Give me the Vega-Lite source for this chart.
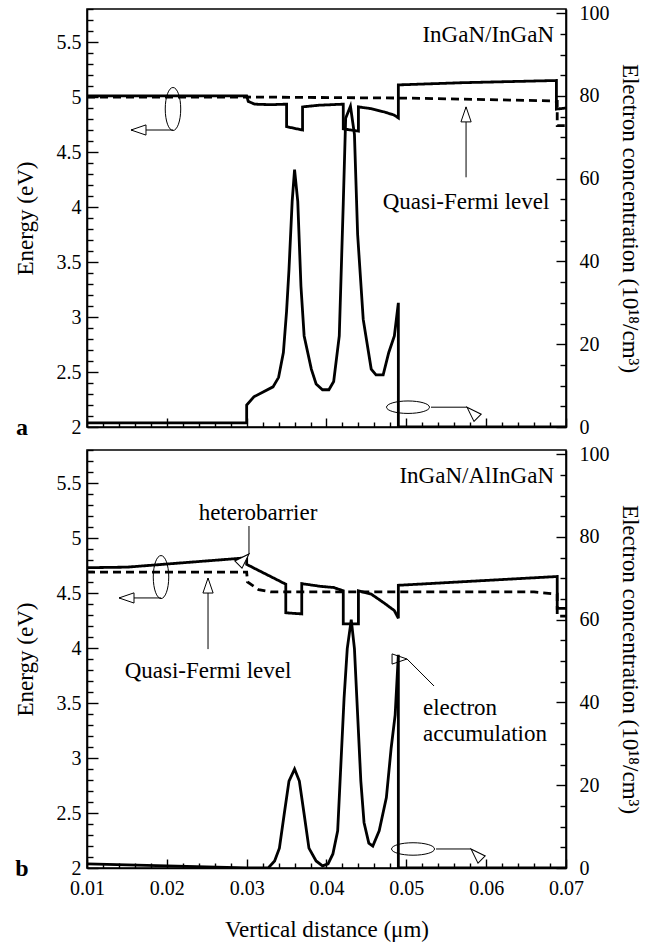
{
  "$schema": "https://vega.github.io/schema/vega-lite/v6.json",
  "background": "white",
  "padding": {"left": 13, "top": -2, "right": 8, "bottom": 8},
  "config": {
    "font": "Liberation Serif",
    "view": {"stroke": "black", "strokeWidth": 1.6},
    "axis": {
      "grid": false,
      "domainColor": "black",
      "domainWidth": 1.6,
      "tickColor": "black",
      "tickWidth": 1.4,
      "tickCount": 100,
      "labelColor": "black",
      "labelFontSize": 20,
      "labelFont": "Liberation Serif",
      "titleColor": "black",
      "titleFont": "Liberation Serif",
      "titleFontSize": 23,
      "titleFontWeight": "normal",
      "labelFlush": false,
      "labelOverlap": false
    }
  },
  "datasets": {
    "energyA": [
      {"x": 0.010, "E": 5.01, "s": "band"},
      {"x": 0.030, "E": 5.01, "s": "band"},
      {"x": 0.0302, "E": 4.96, "s": "band"},
      {"x": 0.031, "E": 4.935, "s": "band"},
      {"x": 0.033, "E": 4.93, "s": "band"},
      {"x": 0.0350, "E": 4.935, "s": "band"},
      {"x": 0.0350, "E": 4.73, "s": "band"},
      {"x": 0.0370, "E": 4.70, "s": "band"},
      {"x": 0.0370, "E": 4.91, "s": "band"},
      {"x": 0.039, "E": 4.925, "s": "band"},
      {"x": 0.0421, "E": 4.935, "s": "band"},
      {"x": 0.0421, "E": 4.71, "s": "band"},
      {"x": 0.0440, "E": 4.69, "s": "band"},
      {"x": 0.0440, "E": 4.91, "s": "band"},
      {"x": 0.0455, "E": 4.895, "s": "band"},
      {"x": 0.0472, "E": 4.865, "s": "band"},
      {"x": 0.0485, "E": 4.835, "s": "band"},
      {"x": 0.0490, "E": 4.81, "s": "band"},
      {"x": 0.0490, "E": 5.11, "s": "band"},
      {"x": 0.057, "E": 5.13, "s": "band"},
      {"x": 0.0688, "E": 5.15, "s": "band"},
      {"x": 0.0688, "E": 4.89, "s": "band"},
      {"x": 0.070, "E": 4.90, "s": "band"},
      {"x": 0.010, "E": 5.0, "s": "fermi"},
      {"x": 0.030, "E": 5.0, "s": "fermi"},
      {"x": 0.050, "E": 4.99, "s": "fermi"},
      {"x": 0.068, "E": 4.965, "s": "fermi"},
      {"x": 0.0689, "E": 4.96, "s": "fermi"},
      {"x": 0.0689, "E": 4.74, "s": "fermi"},
      {"x": 0.070, "E": 4.74, "s": "fermi"}
    ],
    "concA": [
      {"x": 0.010, "c": 1},
      {"x": 0.030, "c": 1},
      {"x": 0.030, "c": 5.3},
      {"x": 0.0309, "c": 7.3},
      {"x": 0.0333, "c": 9.7},
      {"x": 0.0340, "c": 12},
      {"x": 0.0346, "c": 18},
      {"x": 0.0350, "c": 28},
      {"x": 0.0353, "c": 38},
      {"x": 0.0357, "c": 54.5},
      {"x": 0.0360, "c": 62.2},
      {"x": 0.0364, "c": 54.5},
      {"x": 0.0368, "c": 34},
      {"x": 0.0372, "c": 22},
      {"x": 0.0381, "c": 14},
      {"x": 0.0387, "c": 10.4},
      {"x": 0.0395, "c": 9},
      {"x": 0.0403, "c": 9},
      {"x": 0.0409, "c": 11},
      {"x": 0.0416, "c": 22},
      {"x": 0.0421, "c": 54},
      {"x": 0.0424, "c": 74.6},
      {"x": 0.0430, "c": 77.5},
      {"x": 0.0435, "c": 70.7},
      {"x": 0.0439, "c": 46.5},
      {"x": 0.0446, "c": 26},
      {"x": 0.0456, "c": 14},
      {"x": 0.0462, "c": 12.6},
      {"x": 0.0471, "c": 12.6},
      {"x": 0.0478, "c": 18},
      {"x": 0.0485, "c": 22},
      {"x": 0.0490, "c": 30},
      {"x": 0.0490, "c": 0},
      {"x": 0.070, "c": 0}
    ],
    "arrowsA": [
      {"x": 0.02077, "E": 4.70, "x2": 0.01551, "E2": 4.70, "dir": "left"},
      {"x": 0.05309, "E": 2.18, "x2": 0.05760, "E2": 2.18, "dir": "right"},
      {"x": 0.05748, "E": 4.27, "x2": 0.05748, "E2": 4.91, "dir": "up"}
    ],
    "ringsA": [
      {"x": 0.02077, "E": 4.891, "o": "v"},
      {"x": 0.05021, "E": 2.18, "o": "h"}
    ],
    "textA": [
      {"x": 0.0685, "E": 5.564, "t": "InGaN/InGaN", "a": "right"},
      {"x": 0.05748, "E": 4.045, "t": "Quasi-Fermi level", "a": "center"},
      {"x": 0.00186, "E": 1.927, "t": "a", "a": "tag"}
    ],
    "energyB": [
      {"x": 0.010, "E": 4.73, "s": "band"},
      {"x": 0.015, "E": 4.735, "s": "band"},
      {"x": 0.030, "E": 4.82, "s": "band"},
      {"x": 0.030, "E": 4.76, "s": "band"},
      {"x": 0.0349, "E": 4.58, "s": "band"},
      {"x": 0.0349, "E": 4.32, "s": "band"},
      {"x": 0.0369, "E": 4.31, "s": "band"},
      {"x": 0.0369, "E": 4.585, "s": "band"},
      {"x": 0.0393, "E": 4.56, "s": "band"},
      {"x": 0.0409, "E": 4.55, "s": "band"},
      {"x": 0.0421, "E": 4.52, "s": "band"},
      {"x": 0.0421, "E": 4.22, "s": "band"},
      {"x": 0.0440, "E": 4.22, "s": "band"},
      {"x": 0.0440, "E": 4.52, "s": "band"},
      {"x": 0.0456, "E": 4.49, "s": "band"},
      {"x": 0.0472, "E": 4.41, "s": "band"},
      {"x": 0.0485, "E": 4.34, "s": "band"},
      {"x": 0.0490, "E": 4.27, "s": "band"},
      {"x": 0.0490, "E": 4.57, "s": "band"},
      {"x": 0.0689, "E": 4.65, "s": "band"},
      {"x": 0.0689, "E": 4.36, "s": "band"},
      {"x": 0.070, "E": 4.36, "s": "band"},
      {"x": 0.010, "E": 4.69, "s": "fermi"},
      {"x": 0.030, "E": 4.69, "s": "fermi"},
      {"x": 0.0301, "E": 4.60, "s": "fermi"},
      {"x": 0.0315, "E": 4.53, "s": "fermi"},
      {"x": 0.033, "E": 4.51, "s": "fermi"},
      {"x": 0.066, "E": 4.51, "s": "fermi"},
      {"x": 0.0689, "E": 4.49, "s": "fermi"},
      {"x": 0.0689, "E": 4.29, "s": "fermi"},
      {"x": 0.070, "E": 4.29, "s": "fermi"}
    ],
    "concB": [
      {"x": 0.010, "c": 1},
      {"x": 0.020, "c": 0.5},
      {"x": 0.030, "c": 0},
      {"x": 0.0327, "c": 0},
      {"x": 0.0335, "c": 1.7},
      {"x": 0.0341, "c": 4.8},
      {"x": 0.0347, "c": 13},
      {"x": 0.0353, "c": 21},
      {"x": 0.0360, "c": 23.9},
      {"x": 0.0366, "c": 21},
      {"x": 0.0372, "c": 13},
      {"x": 0.0378, "c": 4.8},
      {"x": 0.0387, "c": 1.7},
      {"x": 0.0395, "c": 0.5},
      {"x": 0.0402, "c": 1},
      {"x": 0.0408, "c": 3.4},
      {"x": 0.0414, "c": 9},
      {"x": 0.0418, "c": 25},
      {"x": 0.0422, "c": 41},
      {"x": 0.0426, "c": 53},
      {"x": 0.0431, "c": 60},
      {"x": 0.0435, "c": 53},
      {"x": 0.0439, "c": 37},
      {"x": 0.0443, "c": 21},
      {"x": 0.0447, "c": 11},
      {"x": 0.0453, "c": 6},
      {"x": 0.0458, "c": 5.3},
      {"x": 0.0466, "c": 9},
      {"x": 0.0475, "c": 17},
      {"x": 0.0481, "c": 29},
      {"x": 0.0486, "c": 37},
      {"x": 0.0490, "c": 51.5},
      {"x": 0.0490, "c": 0},
      {"x": 0.070, "c": 0}
    ],
    "arrowsB": [
      {"x": 0.03029, "E": 5.109, "x2": 0.03029, "E2": 4.855, "dir": "down"},
      {"x": 0.01927, "E": 4.455, "x2": 0.01401, "E2": 4.455, "dir": "left"},
      {"x": 0.02516, "E": 3.99, "x2": 0.02516, "E2": 4.636, "dir": "up"},
      {"x": 0.05347, "E": 3.6545, "x2": 0.05009, "E2": 3.9, "dir": "upleft"},
      {"x": 0.05372, "E": 2.173, "x2": 0.05810, "E2": 2.173, "dir": "right"}
    ],
    "ringsB": [
      {"x": 0.01927, "E": 4.645, "o": "v"},
      {"x": 0.05084, "E": 2.173, "o": "h"}
    ],
    "textB": [
      {"x": 0.0685, "E": 5.564, "t": "InGaN/AlInGaN", "a": "right"},
      {"x": 0.03142, "E": 5.227, "t": "heterobarrier", "a": "center"},
      {"x": 0.02516, "E": 3.79, "t": "Quasi-Fermi level", "a": "center"},
      {"x": 0.05209, "E": 3.4545, "t": "electron", "a": "left"},
      {"x": 0.05209, "E": 3.218, "t": "accumulation", "a": "left"},
      {"x": 0.00186, "E": 1.927, "t": "b", "a": "tag"}
    ]
  },
  "bounds": "flush",
  "spacing": 23,
  "vconcat": [
    {
      "width": 479,
      "height": 418,
      "resolve": {"scale": {"y": "independent"}},
      "layer": [
        {
          "layer": [
            {
              "data": {"name": "energyA"},
              "mark": {"type": "line", "color": "black", "strokeWidth": 2.8, "clip": true},
              "encoding": {
                "x": {"field": "x", "type": "quantitative",
                  "scale": {"domain": [0.01, 0.07], "nice": false, "zero": false},
                  "axis": {
                    "title": null, "labels": false,
                    "values": [0.01,0.012,0.014,0.016,0.018,0.02,0.022,0.024,0.026,0.028,0.03,0.032,0.034,0.036,0.038,0.04,0.042,0.044,0.046,0.048,0.05,0.052,0.054,0.056,0.058,0.06,0.062,0.064,0.066,0.068,0.07],
                    "tickCount": 100,
                    "tickSize": {"condition": {"test": "abs(datum.value*100-round(datum.value*100))<1e-6", "value": -9}, "value": -5}
                  }},
                "y": {"field": "E", "type": "quantitative",
                  "scale": {"domain": [2, 5.8], "nice": false, "zero": false},
                  "axis": {
                    "orient": "left", "title": "Energy (eV)", "titlePadding": 19,
                    "values": [2,2.1,2.2,2.3,2.4,2.5,2.6,2.7,2.8,2.9,3,3.1,3.2,3.3,3.4,3.5,3.6,3.7,3.8,3.9,4,4.1,4.2,4.3,4.4,4.5,4.6,4.7,4.8,4.9,5,5.1,5.2,5.3,5.4,5.5,5.6,5.7,5.8],
                    "tickCount": 100,
                    "tickSize": {"condition": {"test": "abs(datum.value*2-round(datum.value*2))<1e-6", "value": -11}, "value": -6},
                    "labelPadding": 17,
                    "labelExpr": "abs(datum.value*2-round(datum.value*2))<1e-6 ? format(datum.value, '~g') : ''"
                  }},
                "strokeDash": {"field": "s", "type": "nominal", "legend": null,
                  "scale": {"domain": ["band", "fermi"], "range": [[1, 0], [8, 5]]}},
                "order": {"value": null}
              }
            },
            {
              "data": {"name": "arrowsA"},
              "mark": {"type": "rule", "color": "black", "strokeWidth": 1},
              "encoding": {
                "x": {"field": "x", "type": "quantitative"},
                "y": {"field": "E", "type": "quantitative"},
                "x2": {"field": "x2"},
                "y2": {"field": "E2"}
              }
            },
            {
              "data": {"name": "arrowsA"},
              "mark": {"type": "point", "filled": true, "fill": "white", "stroke": "black", "strokeWidth": 1, "opacity": 1, "size": 900,
                "shape": "M0,0 L1,-0.34 L1,0.34 Z"},
              "encoding": {
                "x": {"field": "x2", "type": "quantitative"},
                "y": {"field": "E2", "type": "quantitative"},
                "angle": {"field": "dir", "type": "nominal", "legend": null,
                  "scale": {"domain": ["left", "right", "up", "down", "upleft"], "range": [0, 180, 90, 270, 45]}}
              }
            },
            {
              "data": {"name": "ringsA"},
              "mark": {"type": "point", "filled": false, "stroke": "black", "strokeWidth": 1, "opacity": 1, "size": 1849},
              "encoding": {
                "x": {"field": "x", "type": "quantitative"},
                "y": {"field": "E", "type": "quantitative"},
                "shape": {"field": "o", "type": "nominal", "legend": null,
                  "scale": {"domain": ["v", "h"], "range": ["M0,-1 A0.36,1 0 1,1 0,1 A0.36,1 0 1,1 0,-1 Z", "M-1,0 A1,0.29 0 1,1 1,0 A1,0.29 0 1,1 -1,0 Z"]}}
              }
            },
            {
              "data": {"name": "textA"},
              "transform": [{"filter": "datum.a === 'center'"}],
              "mark": {"type": "text", "align": "center", "baseline": "middle", "fontSize": 23, "color": "black"},
              "encoding": {
                "x": {"field": "x", "type": "quantitative"},
                "y": {"field": "E", "type": "quantitative"},
                "text": {"field": "t"}
              }
            },
            {
              "data": {"name": "textA"},
              "transform": [{"filter": "datum.a === 'right'"}],
              "mark": {"type": "text", "align": "right", "baseline": "middle", "fontSize": 23, "color": "black"},
              "encoding": {
                "x": {"field": "x", "type": "quantitative"},
                "y": {"field": "E", "type": "quantitative"},
                "text": {"field": "t"}
              }
            },
            {
              "data": {"name": "textA"},
              "transform": [{"filter": "datum.a === 'tag'"}],
              "mark": {"type": "text", "align": "center", "baseline": "alphabetic", "fontSize": 24, "fontWeight": "bold", "color": "black"},
              "encoding": {
                "x": {"field": "x", "type": "quantitative"},
                "y": {"field": "E", "type": "quantitative"},
                "text": {"field": "t"}
              }
            }
          ]
        },
        {
          "data": {"name": "concA"},
          "mark": {"type": "line", "color": "black", "strokeWidth": 2.8, "clip": true},
          "encoding": {
            "x": {"field": "x", "type": "quantitative"},
            "y": {"field": "c", "type": "quantitative",
              "scale": {"domain": [0, 101], "nice": false},
              "axis": {
                "orient": "right", "title": "Electron concentration (10¹⁸/cm³)", "titlePadding": 8,
                "values": [0,5,10,15,20,25,30,35,40,45,50,55,60,65,70,75,80,85,90,95,100],
                "tickCount": 100,
                "tickSize": {"condition": {"test": "datum.value % 20 === 0", "value": -10}, "value": -6},
                "labelPadding": 23,
                "labelExpr": "datum.value % 20 === 0 ? format(datum.value, '~g') : ''"
              }},
            "order": {"value": null}
          }
        }
      ]
    },
    {
      "width": 479,
      "height": 418,
      "resolve": {"scale": {"y": "independent"}},
      "layer": [
        {
          "layer": [
            {
              "data": {"name": "energyB"},
              "mark": {"type": "line", "color": "black", "strokeWidth": 2.8, "clip": true},
              "encoding": {
                "x": {"field": "x", "type": "quantitative",
                  "scale": {"domain": [0.01, 0.07], "nice": false, "zero": false},
                  "axis": {
                    "title": "Vertical distance (μm)", "titlePadding": 16,
                    "values": [0.01,0.012,0.014,0.016,0.018,0.02,0.022,0.024,0.026,0.028,0.03,0.032,0.034,0.036,0.038,0.04,0.042,0.044,0.046,0.048,0.05,0.052,0.054,0.056,0.058,0.06,0.062,0.064,0.066,0.068,0.07],
                    "tickCount": 100,
                    "tickSize": {"condition": {"test": "abs(datum.value*100-round(datum.value*100))<1e-6", "value": -9}, "value": -5},
                    "labelPadding": 19,
                    "labelExpr": "abs(datum.value*100-round(datum.value*100))<1e-6 ? format(datum.value, '.2f') : ''"
                  }},
                "y": {"field": "E", "type": "quantitative",
                  "scale": {"domain": [2, 5.8], "nice": false, "zero": false},
                  "axis": {
                    "orient": "left", "title": "Energy (eV)", "titlePadding": 19,
                    "values": [2,2.1,2.2,2.3,2.4,2.5,2.6,2.7,2.8,2.9,3,3.1,3.2,3.3,3.4,3.5,3.6,3.7,3.8,3.9,4,4.1,4.2,4.3,4.4,4.5,4.6,4.7,4.8,4.9,5,5.1,5.2,5.3,5.4,5.5,5.6,5.7,5.8],
                    "tickCount": 100,
                    "tickSize": {"condition": {"test": "abs(datum.value*2-round(datum.value*2))<1e-6", "value": -11}, "value": -6},
                    "labelPadding": 17,
                    "labelExpr": "abs(datum.value*2-round(datum.value*2))<1e-6 ? format(datum.value, '~g') : ''"
                  }},
                "strokeDash": {"field": "s", "type": "nominal", "legend": null,
                  "scale": {"domain": ["band", "fermi"], "range": [[1, 0], [8, 5]]}},
                "order": {"value": null}
              }
            },
            {
              "data": {"name": "arrowsB"},
              "mark": {"type": "rule", "color": "black", "strokeWidth": 1},
              "encoding": {
                "x": {"field": "x", "type": "quantitative"},
                "y": {"field": "E", "type": "quantitative"},
                "x2": {"field": "x2"},
                "y2": {"field": "E2"}
              }
            },
            {
              "data": {"name": "arrowsB"},
              "mark": {"type": "point", "filled": true, "fill": "white", "stroke": "black", "strokeWidth": 1, "opacity": 1, "size": 900,
                "shape": "M0,0 L1,-0.34 L1,0.34 Z"},
              "encoding": {
                "x": {"field": "x2", "type": "quantitative"},
                "y": {"field": "E2", "type": "quantitative"},
                "angle": {"field": "dir", "type": "nominal", "legend": null,
                  "scale": {"domain": ["left", "right", "up", "down", "upleft"], "range": [0, 180, 90, 270, 45]}}
              }
            },
            {
              "data": {"name": "ringsB"},
              "mark": {"type": "point", "filled": false, "stroke": "black", "strokeWidth": 1, "opacity": 1, "size": 1849},
              "encoding": {
                "x": {"field": "x", "type": "quantitative"},
                "y": {"field": "E", "type": "quantitative"},
                "shape": {"field": "o", "type": "nominal", "legend": null,
                  "scale": {"domain": ["v", "h"], "range": ["M0,-1 A0.36,1 0 1,1 0,1 A0.36,1 0 1,1 0,-1 Z", "M-1,0 A1,0.29 0 1,1 1,0 A1,0.29 0 1,1 -1,0 Z"]}}
              }
            },
            {
              "data": {"name": "textB"},
              "transform": [{"filter": "datum.a === 'center'"}],
              "mark": {"type": "text", "align": "center", "baseline": "middle", "fontSize": 23, "color": "black"},
              "encoding": {
                "x": {"field": "x", "type": "quantitative"},
                "y": {"field": "E", "type": "quantitative"},
                "text": {"field": "t"}
              }
            },
            {
              "data": {"name": "textB"},
              "transform": [{"filter": "datum.a === 'right'"}],
              "mark": {"type": "text", "align": "right", "baseline": "middle", "fontSize": 23, "color": "black"},
              "encoding": {
                "x": {"field": "x", "type": "quantitative"},
                "y": {"field": "E", "type": "quantitative"},
                "text": {"field": "t"}
              }
            },
            {
              "data": {"name": "textB"},
              "transform": [{"filter": "datum.a === 'left'"}],
              "mark": {"type": "text", "align": "left", "baseline": "middle", "fontSize": 23, "color": "black"},
              "encoding": {
                "x": {"field": "x", "type": "quantitative"},
                "y": {"field": "E", "type": "quantitative"},
                "text": {"field": "t"}
              }
            },
            {
              "data": {"name": "textB"},
              "transform": [{"filter": "datum.a === 'tag'"}],
              "mark": {"type": "text", "align": "center", "baseline": "alphabetic", "fontSize": 24, "fontWeight": "bold", "color": "black"},
              "encoding": {
                "x": {"field": "x", "type": "quantitative"},
                "y": {"field": "E", "type": "quantitative"},
                "text": {"field": "t"}
              }
            }
          ]
        },
        {
          "data": {"name": "concB"},
          "mark": {"type": "line", "color": "black", "strokeWidth": 2.8, "clip": true},
          "encoding": {
            "x": {"field": "x", "type": "quantitative"},
            "y": {"field": "c", "type": "quantitative",
              "scale": {"domain": [0, 101], "nice": false},
              "axis": {
                "orient": "right", "title": "Electron concentration (10¹⁸/cm³)", "titlePadding": 8,
                "values": [0,5,10,15,20,25,30,35,40,45,50,55,60,65,70,75,80,85,90,95,100],
                "tickCount": 100,
                "tickSize": {"condition": {"test": "datum.value % 20 === 0", "value": -10}, "value": -6},
                "labelPadding": 23,
                "labelExpr": "datum.value % 20 === 0 ? format(datum.value, '~g') : ''"
              }},
            "order": {"value": null}
          }
        }
      ]
    }
  ]
}
